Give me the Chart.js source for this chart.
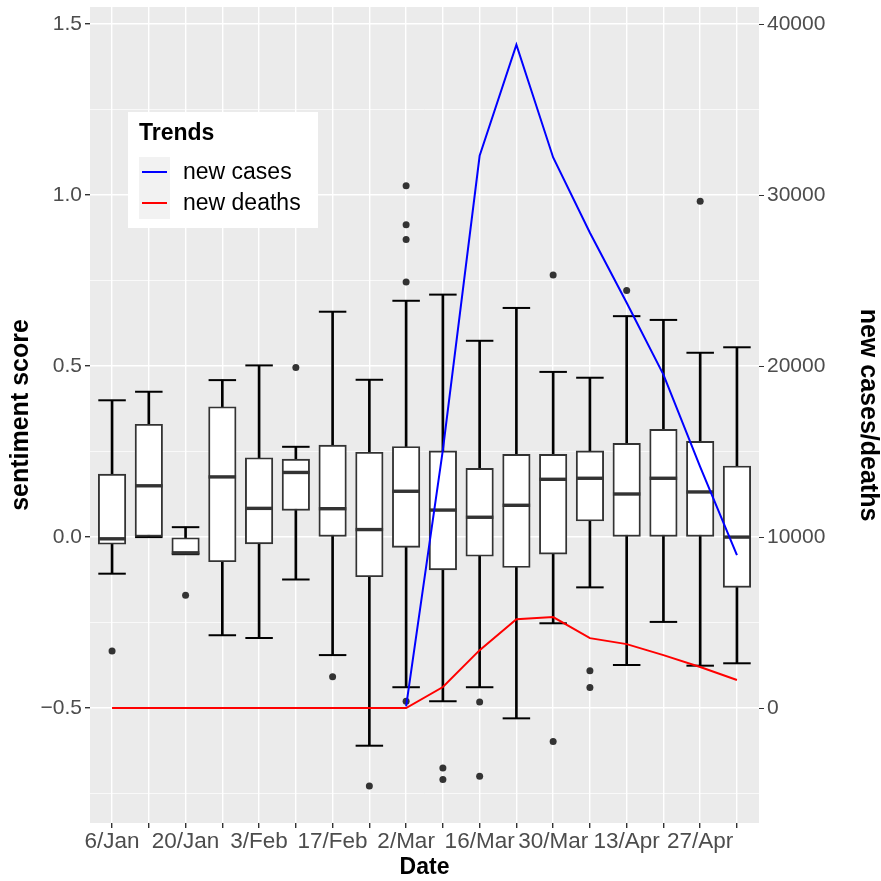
<!DOCTYPE html>
<html>
<head>
<meta charset="utf-8">
<script src="https://cdn.jsdelivr.net/npm/chart.js@4"></script>
<style>
  html, body { margin: 0; padding: 0; background: #ffffff; }
  #wrap { width: 881px; height: 881px; }
</style>
</head>
<body>
<div id="wrap"><canvas id="chart" width="881" height="881"></canvas></div>
<script>
// weekly categories (only every other one gets a label)
const dates = ['6/Jan', '13/Jan', '20/Jan', '27/Jan', '3/Feb', '10/Feb', '17/Feb', '24/Feb', '2/Mar',
  '9/Mar', '16/Mar', '23/Mar', '30/Mar', '6/Apr', '13/Apr', '20/Apr', '27/Apr', '4/May']

// box stats per week: lower whisker, q1, median, q3, upper whisker
const whiskerLow = [-0.107, 0.0, -0.050, -0.287, -0.295, -0.124, -0.345, -0.610, -0.439,
  -0.480, -0.439, -0.530, -0.252, -0.147, -0.374, -0.248, -0.376, -0.369]
const q1 = [-0.021, 0.0, -0.050, -0.072, -0.020, 0.078, 0.0, -0.116, -0.030,
  -0.096, -0.056, -0.089, -0.050, 0.047, 0.0, 0.0, 0.0, -0.147]
const median = [-0.005, 0.150, -0.046, 0.176, 0.084, 0.189, 0.083, 0.022, 0.134,
  0.079, 0.058, 0.093, 0.169, 0.172, 0.126, 0.172, 0.132, 0.0]
const q3 = [0.184, 0.330, 0.0, 0.381, 0.232, 0.228, 0.269, 0.248, 0.265,
  0.252, 0.201, 0.242, 0.242, 0.252, 0.274, 0.315, 0.280, 0.208]
const whiskerHigh = [0.400, 0.425, 0.029, 0.459, 0.502, 0.264, 0.659, 0.460, 0.691,
  0.709, 0.574, 0.670, 0.483, 0.466, 0.646, 0.635, 0.539, 0.555]
const outliers = [[-0.333], [], [-0.170], [], [], [0.496], [-0.408], [-0.728],
  [1.027, 0.913, 0.870, 0.746, -0.480], [-0.675, -0.709], [-0.482, -0.699], [],
  [0.766, -0.598], [-0.391, -0.440], [0.721], [], [0.982], []]

// trends on the secondary axis
const newCases = [null, null, null, null, null, null, null, null, 100,
  15100, 32300, 38800, 32200, 27800, 23700, 19500, 14100, 8950]
const newDeaths = [0, 0, 0, 0, 0, 0, 0, 0, 0,
  1230, 3390, 5200, 5320, 4090, 3740, 3100, 2400, 1640]

const leftTicks = [-0.75, -0.5, -0.25, 0, 0.25, 0.5, 0.75, 1, 1.25, 1.5]
const rightTicks = [0, 10000, 20000, 30000, 40000]

// secondary axis: cases = (sentiment + 0.5) * 20000
const yMin = -0.836
const yMax = 1.55
const toCases = (v) => (v + 0.5) * 20000

const FONT = "'Liberation Sans', Arial, sans-serif"
const isMajor = (v) => Math.abs(v * 2 - Math.round(v * 2)) < 1e-6
const boxWidth = 27.5

// no extra label padding, the panel should fill its box like ggplot
const noPad = (s) => { s.paddingLeft = 0; s.paddingRight = 0; s.paddingTop = 0; s.paddingBottom = 0 }

const panelBg = {
  id: 'panelBg',
  beforeDraw(chart) {
    const {ctx, chartArea: a} = chart
    ctx.save()
    ctx.fillStyle = '#EBEBEB'
    ctx.fillRect(a.left, a.top, a.right - a.left, a.bottom - a.top)
    ctx.restore()
  }
}

// ggplot style legend box inside the panel
const trendLegend = {
  id: 'trendLegend',
  afterDraw(chart) {
    const {ctx, chartArea: a} = chart
    const x = a.left + 38, y = a.top + 105
    const lines = chart.data.datasets.filter((d) => d.type === 'line')
    ctx.save()
    ctx.fillStyle = '#ffffff'
    ctx.fillRect(x, y, 190, 116)
    ctx.fillStyle = '#000000'
    ctx.font = 'bold 23px ' + FONT
    ctx.textBaseline = 'middle'
    ctx.fillText('Trends', x + 11, y + 22)
    ctx.fillStyle = '#F2F2F2'
    ctx.fillRect(x + 11, y + 45, 31, 62)
    ctx.font = '23px ' + FONT
    lines.forEach((d, i) => {
      const ly = y + 60 + i * 31
      ctx.strokeStyle = d.borderColor
      ctx.lineWidth = 2
      ctx.beginPath()
      ctx.moveTo(x + 14, ly)
      ctx.lineTo(x + 39, ly)
      ctx.stroke()
      ctx.fillStyle = '#000000'
      ctx.fillText(d.label, x + 55, ly + 1)
    })
    ctx.restore()
  }
}

const idx = dates.map((d, i) => i)

const datasets = [
  {
    type: 'line', label: 'new cases', yAxisID: 'y2',
    data: idx.map((i) => ({x: i, y: newCases[i]})),
    borderColor: '#0000FF', borderWidth: 2, pointRadius: 0, spanGaps: false, order: 0
  },
  {
    type: 'line', label: 'new deaths', yAxisID: 'y2',
    data: idx.map((i) => ({x: i, y: newDeaths[i]})),
    borderColor: '#FF0000', borderWidth: 2, pointRadius: 0, order: 0
  },
  {
    type: 'scatter', label: 'outliers',
    data: outliers.flatMap((list, i) => list.map((v) => ({x: i, y: v}))),
    pointRadius: 3.5, pointStyle: 'circle', backgroundColor: '#333333', borderWidth: 0, order: 1
  },
  {
    type: 'scatter', label: 'median',
    data: idx.map((i) => ({x: i, y: median[i]})),
    pointStyle: 'line', pointRadius: boxWidth / 2, borderColor: '#333333', borderWidth: 3.4, order: 2
  },
  {
    type: 'bar', label: 'box',
    data: idx.map((i) => ({x: i, y: [q1[i], q3[i]]})),
    backgroundColor: '#ffffff', borderColor: '#333333', borderWidth: 1.9, borderSkipped: false,
    barThickness: boxWidth, grouped: false, order: 3
  },
  {
    type: 'scatter', label: 'caps',
    data: idx.flatMap((i) => [{x: i, y: whiskerLow[i]}, {x: i, y: whiskerHigh[i]}]),
    pointStyle: 'line', pointRadius: boxWidth / 2, borderColor: '#000000', borderWidth: 2, order: 4
  },
  {
    type: 'bar', label: 'whisker',
    data: idx.map((i) => ({x: i, y: [whiskerLow[i], whiskerHigh[i]]})),
    backgroundColor: '#000000', borderWidth: 0, barThickness: 2, grouped: false, order: 5
  }
]

new Chart(document.getElementById('chart'), {
  data: {datasets},
  plugins: [panelBg, trendLegend],
  options: {
    responsive: false,
    animation: false,
    events: [],
    layout: {autoPadding: false, padding: {top: 7, left: 0, right: 0, bottom: 0}},
    plugins: {legend: {display: false}, tooltip: {enabled: false}},
    scales: {
      x: {
        type: 'linear', min: -0.6, max: 17.6, offset: false,
        afterBuildTicks: (s) => { s.ticks = idx.map((i) => ({value: i})) },
        afterFit: (s) => { s.height = 58; noPad(s) },
        border: {display: false},
        grid: {color: '#ffffff', lineWidth: 1.4, offset: false, tickColor: '#333333', tickLength: 5},
        ticks: {
          autoSkip: false, maxRotation: 0, padding: 0, color: '#4D4D4D',
          font: {family: FONT, size: 22.5},
          callback: (v) => (v % 2 === 0 ? dates[v] : '')
        },
        title: {display: true, text: 'Date', color: '#000000', font: {family: FONT, size: 23, weight: 'bold', lineHeight: 1}, padding: {top: 0, bottom: 2}}
      },
      y: {
        position: 'left', min: yMin, max: yMax,
        afterBuildTicks: (s) => { s.ticks = leftTicks.map((v) => ({value: v})) },
        afterFit: (s) => { s.width = 90; noPad(s) },
        border: {display: false},
        grid: {
          color: '#ffffff',
          lineWidth: (c) => (c.tick && isMajor(c.tick.value) ? 1.4 : 0.7),
          tickColor: (c) => (c.tick && isMajor(c.tick.value) ? '#333333' : 'rgba(0,0,0,0)'),
          tickLength: 5
        },
        ticks: {
          padding: 3, color: '#4D4D4D', font: {family: FONT, size: 21},
          callback: (v) => (isMajor(v) ? v.toFixed(1).replace('-', '\u2212') : '')
        },
        title: {display: true, text: 'sentiment score', color: '#000000', font: {family: FONT, size: 25, weight: 'bold', lineHeight: 1}, padding: {top: 9, bottom: 0}}
      },
      y2: {
        position: 'right', min: toCases(yMin), max: toCases(yMax),
        afterBuildTicks: (s) => { s.ticks = rightTicks.map((v) => ({value: v})) },
        afterFit: (s) => { s.width = 122; noPad(s) },
        border: {display: false},
        grid: {drawOnChartArea: false, tickColor: '#333333', tickLength: 5},
        ticks: {padding: 3, color: '#4D4D4D', font: {family: FONT, size: 21}, callback: (v) => String(v)},
        title: {display: true, text: 'new cases/deaths', color: '#000000', font: {family: FONT, size: 25, weight: 'bold', lineHeight: 1}, padding: {top: 1, bottom: 0}}
      }
    }
  }
})
</script>
</body>
</html>
